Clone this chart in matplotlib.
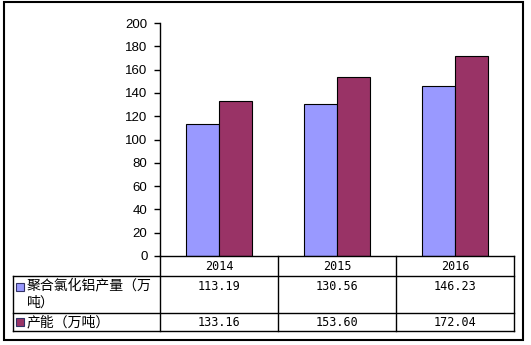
import numpy as np
import matplotlib
matplotlib.use("Agg")
from matplotlib import pyplot as plt
from matplotlib.lines import Line2D
from matplotlib.patches import Rectangle

years = ["2014", "2015", "2016"]
output = [113.19, 130.56, 146.23]      # 聚合氯化铝产量（万吨）
capacity = [133.16, 153.60, 172.04]    # 产能（万吨）
series_names = ["聚合氯化铝产量（万\n吨）", "产能（万吨）"]
colors = ["#9999FF", "#993366"]
yticks = [0, 20, 40, 60, 80, 100, 120, 140, 160, 180, 200]

W, H = 531, 345
fig = plt.figure(figsize=(W / 100, H / 100), dpi=100)
cjk = ["Noto Sans CJK SC", "DejaVu Sans"]
mono = ["DejaVu Sans Mono"]

def fx(px):
    return px / W

def fy(py):
    return 1 - py / H

# plot area in pixels
left, right, top, bottom = 160, 514, 23, 256
ax = fig.add_axes([fx(left), fy(bottom), fx(right - left), (bottom - top) / H])

x = np.arange(len(years))
bw = 0.28
ax.bar(x - bw / 2, output, bw, color=colors[0], edgecolor="black", linewidth=0.8)
ax.bar(x + bw / 2, capacity, bw, color=colors[1], edgecolor="black", linewidth=0.8)

ax.set_xlim(-0.5, len(years) - 0.5)
ax.set_ylim(0, 200)
ax.set_yticks(yticks)
ax.set_yticklabels([str(t) for t in yticks], fontfamily="Liberation Sans", fontsize=9.5)
ax.tick_params(axis="y", direction="out", length=4, width=1, pad=5)
ax.set_xticks([])
for s in ["top", "right", "bottom"]:
    ax.spines[s].set_visible(False)
ax.spines["left"].set_linewidth(1)

# data table under the bars
tab_left = 13
col_x = [left + i * (right - left) / len(years) for i in range(len(years) + 1)]
row_y = [256, 276, 313, 331]

def hline(x0, x1, y):
    fig.add_artist(Line2D([fx(x0), fx(x1)], [fy(y), fy(y)], transform=fig.transFigure,
                          color="black", linewidth=1))

def vline(xp, y0, y1):
    fig.add_artist(Line2D([fx(xp), fx(xp)], [fy(y0), fy(y1)], transform=fig.transFigure,
                          color="black", linewidth=1))

hline(left, right, row_y[0])
for yy in row_y[1:]:
    hline(tab_left, right, yy)
for xp in col_x:
    vline(xp, row_y[0], row_y[-1])
vline(tab_left, row_y[1], row_y[-1])

for i, yr in enumerate(years):
    cx = (col_x[i] + col_x[i + 1]) / 2
    fig.text(fx(cx), fy((row_y[0] + row_y[1]) / 2), yr, ha="center", va="center",
             fontsize=8.5, family=mono)

for r, vals in enumerate([output, capacity]):
    y_top = row_y[r + 1]
    y_bot = row_y[r + 2]
    text_y = y_top + 11 if r == 0 else (y_top + y_bot) / 2
    for i, v in enumerate(vals):
        cx = (col_x[i] + col_x[i + 1]) / 2
        fig.text(fx(cx), fy(text_y), "%.2f" % v, ha="center", va="center",
                 fontsize=8.5, family=mono)
    # legend key
    fig.add_artist(Rectangle((fx(16), fy(text_y + 4)), fx(8), 8 / H, transform=fig.transFigure,
                             facecolor=colors[r], edgecolor="#333366", linewidth=0.8))
    fig.text(fx(27), fy(y_top + 2), series_names[r], ha="left", va="top",
             fontsize=10, family=cjk, linespacing=1.3)

# outer frame
fig.add_artist(Rectangle((fx(4), fy(340)), fx(519), (340 - 2) / H, transform=fig.transFigure,
                         fill=False, edgecolor="black", linewidth=1.5))

fig.savefig("out.png", dpi=100)
